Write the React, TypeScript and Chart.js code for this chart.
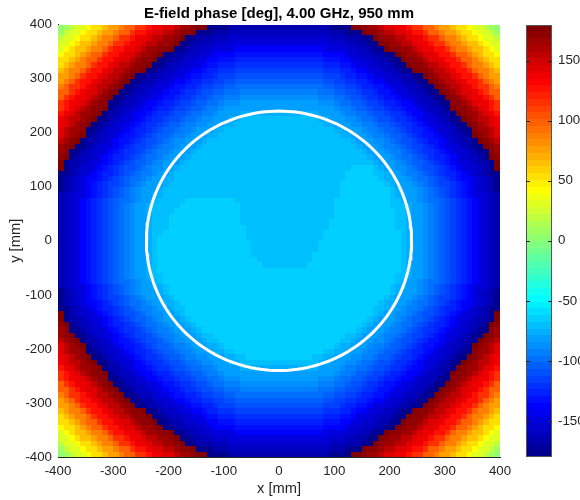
import React, { useEffect, useRef } from "react";
import { Chart, registerables } from "chart.js";

Chart.register(...registerables);

// ---------- text ----------
const TITLE = "E-field phase [deg], 4.00 GHz, 950 mm";
const X_TITLE = "x [mm]";
const Y_TITLE = "y [mm]";

// ---------- axes / colour scale ----------
const AXIS_TICKS = [-400, -300, -200, -100, 0, 100, 200, 300, 400];
const COLORBAR_TICKS = [-150, -100, -50, 0, 50, 100, 150];
const COLOR_MIN = -180;
const COLOR_MAX = 180;
const COLOR_LEVELS = 64;

// ---------- measurement grid (cell centres, mm) ----------
const GRID_MIN = -400;
const GRID_MAX = 400;
const GRID_STEP = 10;

const PROFILE_R = [
  0, 10, 20, 30, 40, 50, 60, 70, 80, 90, 100, 110, 120, 130, 140, 150, 160, 170, 180, 190,
  200, 210, 220, 230, 240, 250, 260, 270, 280, 290, 300, 310, 320, 330, 340, 350, 360, 370, 380, 390,
  400, 410, 417, 421, 430, 440, 450, 460, 470, 480, 490, 500, 510, 520, 530, 540, 550, 560, 570, 580,
  590, 600,
];
const PROFILE_PHASE = [
  -63, -63, -63, -63, -63, -63, -63, -63, -63, -63, -63, -63, -63, -63, -63, -63, -63, -63, -63, -64,
  -64, -65, -66, -69, -74, -79, -84, -89, -94, -100, -105, -110, -116, -122, -128, -134, -140, -147, -154, -161,
  -168, -175, -179, 178, 172, 164, 155, 146, 137, 128, 114, 100, 88, 76, 64, 51, 40, 30, 20, 11,
  2, -6,
];

// distance (mm) at which the phase wraps, by angle from the nearest axis (deg)
const WRAP_ANGLE = [0, 2.5, 5, 7.5, 10, 12.5, 15, 17.5, 20, 22.5, 25, 27.5, 30, 32.5, 35, 37.5, 40, 42.5, 45];
const WRAP_RADIUS = [420, 420, 420, 420, 420, 420, 420, 419, 417, 413, 409, 406, 404, 402, 401, 400, 400, 400, 400];

// ---------- slightly lagging patch inside the aperture (upper part) ----------
// for each column x (mm), the patch covers cells above PATCH_FLOOR_Y inside PATCH_MAX_R
const PATCH_X = [
  -215, -205, -195, -185, -175, -165, -155, -145, -135, -125, -115, -105, -95, -85, -75, -65, -55, -45, -35, -25,
  -15, -5, 5, 15, 25, 35, 45, 55, 65, 75, 85, 95, 105, 115, 125, 135, 145, 155, 165, 175,
  185, 195, 205, 215, 225,
];
const PATCH_FLOOR_Y = [
  10, 20, 45, 62, 72, 78, 82, 82, 82, 82, 82, 82, 82, 80, 65, 30, -5, -30, -42, -48,
  -48, -48, -48, -48, -48, -48, -48, -40, -22, 0, 20, 40, 78, 105, 132, 138, 138, 138, 138, 138,
  105, 95, 60, 20, 0,
];
const PATCH_PHASE = -70;
const PATCH_MAX_R = 226;

// ---------- aperture outline ----------
const APERTURE_RADIUS = 240;

// MATLAB-style jet colour map (64 levels)
function jetMap(m: number): number[][] {
  const n = Math.ceil(m / 4);
  const u: number[] = [];
  for (let i = 1; i <= n; i++) u.push(i / n);
  for (let i = 1; i <= n - 1; i++) u.push(1);
  for (let i = n; i >= 1; i--) u.push(i / n);
  const g0 = Math.ceil(n / 2) - (m % 4 === 1 ? 1 : 0);
  const map = Array.from({ length: m }, () => [0, 0, 0]);
  for (let k = 0; k < u.length; k++) {
    const g = g0 + k + 1;
    const r = g + n;
    const b = g - n;
    if (r >= 1 && r <= m) map[r - 1][0] = u[k];
    if (g >= 1 && g <= m) map[g - 1][1] = u[k];
    if (b >= 1 && b <= m) map[b - 1][2] = u[k];
  }
  return map;
}
const JET = jetMap(COLOR_LEVELS).map(
  (c) => `rgb(${Math.round(c[0] * 255)},${Math.round(c[1] * 255)},${Math.round(c[2] * 255)})`
);
function colorFor(v: number): string {
  let i = Math.floor(((v - COLOR_MIN) / (COLOR_MAX - COLOR_MIN)) * COLOR_LEVELS);
  if (i < 0) i = 0;
  if (i > COLOR_LEVELS - 1) i = COLOR_LEVELS - 1;
  return JET[i];
}

function nearestIndex(list: number[], v: number): number {
  let best = 0;
  for (let i = 1; i < list.length; i++) {
    if (Math.abs(list[i] - v) < Math.abs(list[best] - v)) best = i;
  }
  return best;
}

function phaseAt(x: number, y: number): number {
  const r = Math.sqrt(x * x + y * y);
  let ang = (Math.atan2(Math.abs(y), Math.abs(x)) * 180) / Math.PI;
  if (ang > 45) ang = 90 - ang;
  const wr = WRAP_RADIUS[nearestIndex(WRAP_ANGLE, ang)];
  const rEff = (r * WRAP_RADIUS[0]) / wr;
  let v = PROFILE_PHASE[nearestIndex(PROFILE_R, rEff)];
  const pi = PATCH_X.indexOf(x);
  if (pi >= 0 && r < PATCH_MAX_R && y > PATCH_FLOOR_Y[pi]) v = PATCH_PHASE;
  return v;
}

type Cell = { x: number; y: number; v: number };
const CELLS: Cell[] = [];
for (let y = GRID_MAX - GRID_STEP / 2; y > GRID_MIN; y -= GRID_STEP) {
  for (let x = GRID_MIN + GRID_STEP / 2; x < GRID_MAX; x += GRID_STEP) {
    CELLS.push({ x, y, v: phaseAt(x, y) });
  }
}

const CIRCLE_PTS: { x: number; y: number }[] = [];
for (let a = 0; a <= 360; a += 2) {
  const t = (a * Math.PI) / 180;
  CIRCLE_PTS.push({ x: APERTURE_RADIUS * Math.cos(t), y: APERTURE_RADIUS * Math.sin(t) });
}

const FONT = "'Liberation Sans', Arial, Helvetica, sans-serif";
const TXT = "#262626";

const heatmapPlugin = {
  id: "heatmapPlugin",
  beforeDatasetsDraw(chart: any) {
    const { ctx, chartArea, scales } = chart;
    const xs = scales.x;
    const ys = scales.y;
    const cells = chart.data.datasets[0].data as Cell[];
    const h = GRID_STEP / 2;
    ctx.save();
    ctx.beginPath();
    ctx.rect(chartArea.left, chartArea.top, chartArea.right - chartArea.left, chartArea.bottom - chartArea.top);
    ctx.clip();
    for (const c of cells) {
      const x0 = Math.round(xs.getPixelForValue(c.x - h));
      const x1 = Math.round(xs.getPixelForValue(c.x + h));
      const y0 = Math.round(ys.getPixelForValue(c.y + h));
      const y1 = Math.round(ys.getPixelForValue(c.y - h));
      ctx.fillStyle = colorFor(c.v);
      ctx.fillRect(x0, y0, x1 - x0, y1 - y0);
    }
    ctx.restore();

    // colour bar
    const cb = scales.cb;
    const left = Math.round(chartArea.right + 26);
    const right = Math.round(chartArea.right + 52);
    const step = (COLOR_MAX - COLOR_MIN) / COLOR_LEVELS;
    ctx.save();
    for (let i = 0; i < COLOR_LEVELS; i++) {
      const v0 = COLOR_MIN + i * step;
      const yTop = Math.round(cb.getPixelForValue(v0 + step));
      const yBot = Math.round(cb.getPixelForValue(v0));
      ctx.fillStyle = JET[i];
      ctx.fillRect(left, yTop, right - left, yBot - yTop);
    }
    const top = Math.round(cb.getPixelForValue(COLOR_MAX));
    const bot = Math.round(cb.getPixelForValue(COLOR_MIN));
    ctx.strokeStyle = "#555";
    ctx.lineWidth = 1;
    ctx.strokeRect(left + 0.5, top + 0.5, right - left - 1, bot - top - 1);
    ctx.strokeStyle = TXT;
    for (const t of COLORBAR_TICKS) {
      const y = Math.round(cb.getPixelForValue(t)) + 0.5;
      ctx.beginPath();
      ctx.moveTo(right - 4, y);
      ctx.lineTo(right, y);
      ctx.moveTo(left, y);
      ctx.lineTo(left + 4, y);
      ctx.stroke();
    }
    ctx.restore();
  },
};

export default function App() {
  const ref = useRef<HTMLCanvasElement>(null);
  useEffect(() => {
    document.body.style.margin = "0";
    const canvas = ref.current!;
    const tickFont = { family: FONT, size: 13.3 };
    const labelFont = { family: FONT, size: 14.7 };
    const chart = new Chart(canvas, {
      type: "scatter",
      data: {
        datasets: [
          { label: "phase", data: CELLS as any, pointRadius: 0, showLine: false },
          {
            label: "aperture",
            data: CIRCLE_PTS,
            showLine: true,
            borderColor: "#ffffff",
            borderWidth: 3,
            pointRadius: 0,
            fill: false,
            tension: 0,
          },
        ],
      },
      options: {
        responsive: false,
        maintainAspectRatio: false,
        animation: false,
        events: [],
        layout: { padding: 0 },
        plugins: {
          legend: { display: false },
          tooltip: { enabled: false },
          title: {
            display: true,
            text: TITLE,
            fullSize: false,
            color: "#000",
            font: { family: FONT, size: 15, weight: "bold" },
            padding: { top: 5, bottom: 1.6 },
          },
        },
        scales: {
          x: {
            type: "linear",
            min: GRID_MIN,
            max: GRID_MAX,
            afterBuildTicks: (s: any) => {
              s.ticks = AXIS_TICKS.map((v) => ({ value: v }));
            },
            afterFit: (s: any) => {
              s.height = 43;
            },
            grid: { display: false, drawTicks: false },
            border: { display: true, color: TXT, width: 1 },
            ticks: { color: TXT, font: tickFont, padding: 6, maxRotation: 0, autoSkip: false },
            title: { display: true, text: X_TITLE, color: TXT, font: labelFont, padding: { top: 2, bottom: 2 } },
          },
          y: {
            type: "linear",
            min: GRID_MIN,
            max: GRID_MAX,
            afterBuildTicks: (s: any) => {
              s.ticks = AXIS_TICKS.map((v) => ({ value: v }));
            },
            afterFit: (s: any) => {
              s.width = 58;
            },
            grid: { display: false, drawTicks: false },
            border: { display: true, color: TXT, width: 1 },
            ticks: { color: TXT, font: tickFont, padding: 6, autoSkip: false },
            title: { display: true, text: Y_TITLE, color: TXT, font: labelFont, padding: { top: 7, bottom: 0 } },
          },
          cb: {
            type: "linear",
            position: "right",
            min: COLOR_MIN,
            max: COLOR_MAX,
            afterBuildTicks: (s: any) => {
              s.ticks = COLORBAR_TICKS.map((v) => ({ value: v }));
            },
            afterFit: (s: any) => {
              s.width = 80;
            },
            grid: {
              display: true,
              drawOnChartArea: false,
              drawTicks: true,
              tickLength: 52,
              color: "rgba(0,0,0,0)",
            },
            border: { display: false },
            ticks: { color: TXT, font: tickFont, padding: 6, autoSkip: false },
          },
        },
      } as any,
      plugins: [heatmapPlugin],
    });
    return () => chart.destroy();
  }, []);
  return (
    <div style={{ width: 580, height: 500 }}>
      <canvas ref={ref} width={580} height={500} style={{ display: "block", width: 580, height: 500 }} />
    </div>
  );
}
